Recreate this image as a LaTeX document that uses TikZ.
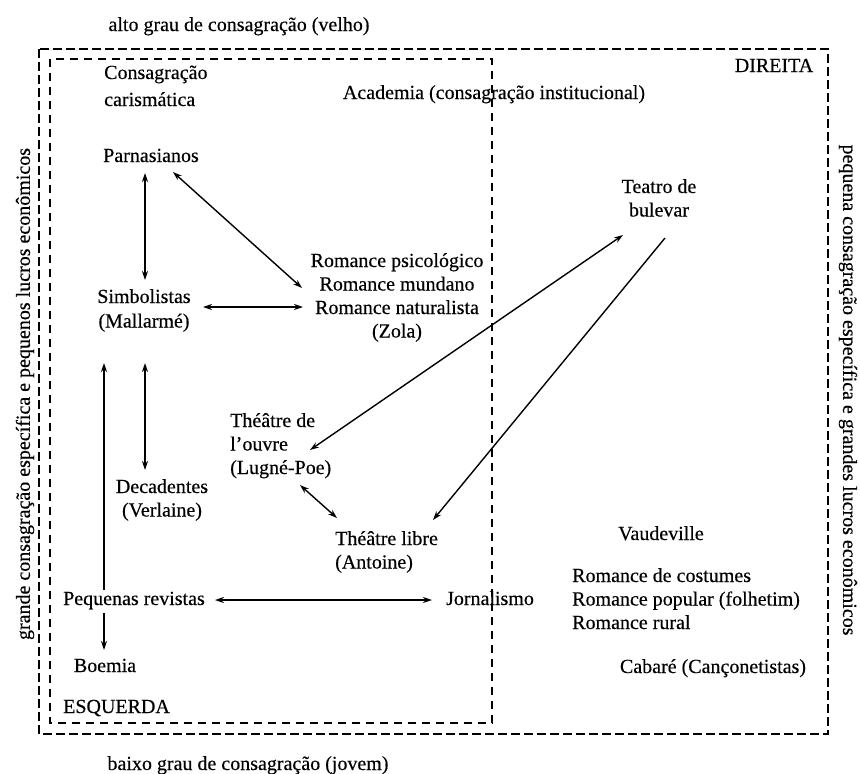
\documentclass[tikz,border=0pt]{standalone}
\usepackage{fontspec}
\setmainfont{Liberation Serif}[FakeBold=0.35]
\usetikzlibrary{arrows.meta,calc}
\newcommand{\stk}[2][c]{\begin{tabular}[t]{@{}#1@{}}#2\end{tabular}}
\begin{document}
\begin{tikzpicture}[x=1pt,y=-1pt,
  lbl/.style={inner sep=0pt, font=\fontsize{20}{23.5}\selectfont},
  conn/.style={line width=1.4pt, {Stealth[length=9pt,width=6pt]}-{Stealth[length=9pt,width=6pt]}},
  oneway/.style={line width=1.4pt, -{Stealth[length=9pt,width=6pt]}},
  outerbox/.style={line width=1.9pt, dash pattern=on 9pt off 4pt},
  innerbox/.style={line width=1.1pt, dash pattern=on 8pt off 6pt}]
\useasboundingbox (0,0) rectangle (860,774);

% regions
\draw[outerbox] (39,49) rectangle (828,734);
\draw[innerbox] (50,59) rectangle (492,723);

% axis labels
\node[lbl,anchor=base] (alto) at (239,31) {alto grau de consagração (velho)};
\node[lbl,anchor=base] (baixo) at (248,770) {baixo grau de consagração (jovem)};
\node[lbl,rotate=90] (grande) at (25,394) {grande consagração específica e pequenos lucros econômicos};
\node[lbl,rotate=-90] (pequena) at (848,390) {pequena consagração específica e grandes lucros econômicos};

% texts
\node[lbl,anchor=base west] (cons) at (104,79) {\stk[l]{Consagração\\[3.5pt]carismática}};
\node[lbl,anchor=base] (acad) at (494,99) {Academia (consagração institucional)};
\node[lbl,anchor=base] (dir) at (774,72) {DIREITA};
\node[lbl,anchor=base] (parn) at (151,162) {Parnasianos};
\node[lbl,anchor=base] (teatro) at (659,193) {\stk{Teatro de\\bulevar}};
\node[lbl,anchor=base] (rom) at (397,267) {\stk{Romance psicológico\\Romance mundano\\Romance naturalista\\(Zola)}};
\node[lbl,anchor=base] (simb) at (144,303) {\stk{Simbolistas\\[1pt](Mallarmé)}};
\node[lbl,anchor=base west] (oeuvre) at (230,427) {\stk[l]{Théâtre de\\l’ouvre\\(Lugné-Poe)}};
\node[lbl,anchor=base] (decad) at (162,493) {\stk{Decadentes\\(Verlaine)}};
\node[lbl,anchor=base west] (libre) at (335,545) {\stk[l]{Théâtre libre\\(Antoine)}};
\node[lbl,anchor=base] (vaud) at (661,540) {Vaudeville};
\node[lbl,anchor=base west] (romd) at (572,582) {\stk[l]{Romance de costumes\\Romance popular (folhetim)\\Romance rural}};
\node[lbl,anchor=base] (peq) at (134,605) {Pequenas revistas};
\node[lbl,anchor=base] (jorn) at (490,605) {Jornalismo};
\node[lbl,anchor=base] (cab) at (713,673) {Cabaré (Cançonetistas)};
\node[lbl,anchor=base] (boem) at (105,672) {Boemia};
\node[lbl,anchor=base west] (esq) at (63,713) {ESQUERDA};

% connectors
\draw[conn] ($(parn.base)+(-6,11)$) -- ($(simb.base)+(1,-23)$);
\draw[conn] ($(parn.base)+(22,10)$) -- ($(rom.base)+(-95,21)$);
\draw[conn] ($(simb.base)+(59,4)$) -- ($(rom.base)+(-94,40)$);
\draw[conn] ($(simb.base)+(1,60)$) -- ($(decad.base)+(-17,-23)$);
\draw[oneway] ($(peq.base)+(-30,-15)$) -- ($(simb.base)+(-40,60)$);
\draw[oneway] ($(peq.base)+(-30,8)$) -- ($(boem.base)+(-1,-22)$);
\draw[conn] ($(peq.base)+(81,-5)$) -- ($(jorn.base)+(-58,-5)$);
\draw[conn] ($(oeuvre.base west)+(80,23)$) -- ($(teatro.base)+(-36,42)$);
\draw[oneway] ($(teatro.base)+(6,45)$) -- ($(libre.base west)+(98,-25)$);
\draw[conn] ($(oeuvre.base west)+(70,58)$) -- ($(libre.base west)+(2,-27)$);
\end{tikzpicture}
\end{document}
